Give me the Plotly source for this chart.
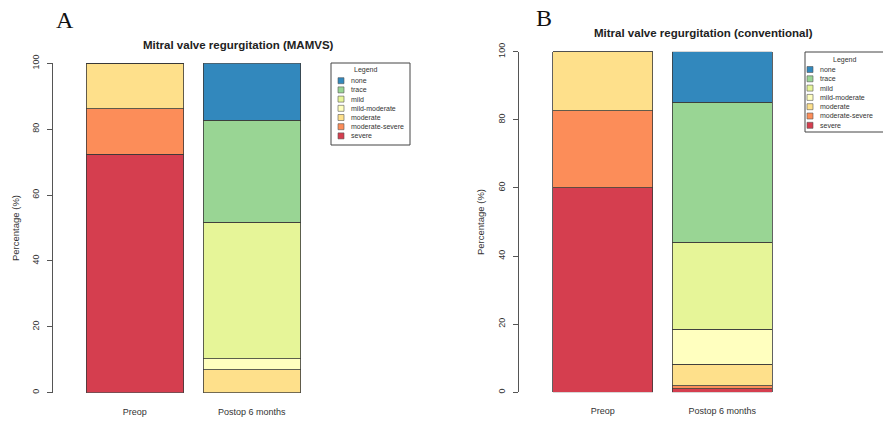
import plotly.graph_objects as go

W, H = 883, 422

# ---- data ----
categories = ["severe", "moderate-severe", "moderate", "mild-moderate", "mild", "trace", "none"]
colors = ["#D53E4F", "#FC8D59", "#FEE08B", "#FFFFBF", "#E6F598", "#99D594", "#3288BD"]
groups = ["Preop", "Postop 6 months"]

# MAMVS (panel A): values per category, [Preop, Postop]
mamvs_preop = [72.4, 13.8, 13.8, 0, 0, 0, 0]
mamvs_postop = [0, 0, 6.9, 3.4, 41.4, 31.0, 17.3]
# Conventional (panel B)
conv_preop = [60.0, 22.7, 17.3, 0, 0, 0, 0]
conv_postop = [1.0, 0.9, 6.4, 10.2, 25.5, 41.1, 14.9]

titles = ["Mitral valve regurgitation (MAMVS)", "Mitral valve regurgitation (conventional)"]
panel_letters = ["A", "B"]
yticks = [0, 20, 40, 60, 80, 100]


def px(x):
    return x / W


def py(y):
    return 1 - y / H


bar_pos = [0.7, 1.9]
fig = go.Figure()

for i, cat in enumerate(categories):
    fig.add_trace(go.Bar(x=bar_pos, y=[mamvs_preop[i], mamvs_postop[i]], width=1,
                         marker=dict(color=colors[i], line=dict(color="#3a3a3a", width=0.8)),
                         name=cat, showlegend=False, xaxis="x", yaxis="y"))
for i, cat in enumerate(categories):
    fig.add_trace(go.Bar(x=bar_pos, y=[conv_preop[i], conv_postop[i]], width=1,
                         marker=dict(color=colors[i], line=dict(color="#3a3a3a", width=0.8)),
                         name=cat, showlegend=False, xaxis="x2", yaxis="y2"))

font_main = "Liberation Sans, Arial, sans-serif"
txt = "#222"

yax = dict(range=[0, 100], tickvals=yticks, showline=True, linecolor="#555", linewidth=1,
           ticks="outside", ticklen=5, tickcolor="#555", tickangle=-90,
           tickfont=dict(size=9, color="#333", family=font_main), showgrid=False,
           zeroline=False, ticklabelstandoff=4, fixedrange=True, automargin=False)
xax = dict(range=[-0.14, 2.6], tickvals=bar_pos, ticktext=groups, showline=False, ticks="",
           showgrid=False, zeroline=False, tickfont=dict(size=9, color="#333", family=font_main),
           ticklabelstandoff=12, fixedrange=True, automargin=False)

fig.update_layout(
    width=W, height=H, margin=dict(l=0, r=0, t=0, b=0, autoexpand=False),
    paper_bgcolor="white", plot_bgcolor="white", barmode="stack", showlegend=False,
    xaxis=dict(xax, domain=[px(53), px(320)], anchor="y"),
    yaxis=dict(yax, domain=[py(392.7), py(63.3)], anchor="x"),
    xaxis2=dict(xax, domain=[px(519), px(792)], anchor="y2"),
    yaxis2=dict(yax, domain=[py(392.3), py(51.7)], anchor="x2"),
)

ann = []
shapes = []


def add_text(x, y, text, size, color=txt, family=font_main, xanchor="center", angle=0):
    ann.append(dict(x=px(x), y=py(y), xref="paper", yref="paper", text=text, showarrow=False,
                    xanchor=xanchor, yanchor="middle", textangle=angle,
                    font=dict(size=size, color=color, family=family)))


# titles
add_text(238, 45, "<b>" + titles[0] + "</b>", 11.5)
add_text(703, 33, "<b>" + titles[1] + "</b>", 11.5)
# panel letters
add_text(65, 20, panel_letters[0], 24, "#111", "Liberation Serif, serif")
add_text(544, 18, panel_letters[1], 24, "#111", "Liberation Serif, serif")
# y titles
add_text(15, 228, "Percentage (%)", 9.5, "#333", angle=-90)
add_text(480, 222, "Percentage (%)", 9.5, "#333", angle=-90)

# legends (box, title, keys)
legend_specs = [
    dict(box=(331, 63, 410, 145), title=(365, 70), sq_x=(338, 344), tx=349, y0=80.7, dy=9.2),
    dict(box=(805, 52, 895, 132), title=(844, 60), sq_x=(807, 813), tx=818, y0=69.5, dy=9.3),
]
legend_order = list(reversed(range(len(categories))))
for spec in legend_specs:
    x0, y0, x1, y1 = spec["box"]
    shapes.append(dict(type="rect", xref="paper", yref="paper", x0=px(x0), x1=px(x1), y0=py(y0), y1=py(y1),
                       line=dict(color="#444", width=1), fillcolor="white", layer="above"))
    add_text(spec["title"][0], spec["title"][1], "Legend", 7, "#333")
    for k, ci in enumerate(legend_order):
        yc = spec["y0"] + k * spec["dy"]
        shapes.append(dict(type="rect", xref="paper", yref="paper", x0=px(spec["sq_x"][0]), x1=px(spec["sq_x"][1]),
                           y0=py(yc + 3), y1=py(yc - 3), fillcolor=colors[ci],
                           line=dict(color="#555", width=0.6), layer="above"))
        add_text(spec["tx"], yc, categories[ci], 7, "#333", xanchor="left")

fig.update_layout(annotations=ann, shapes=shapes)
fig.write_html("out.html", config={"displayModeBar": False},
               post_script="document.body.style.margin='0';document.body.style.padding='0';")
